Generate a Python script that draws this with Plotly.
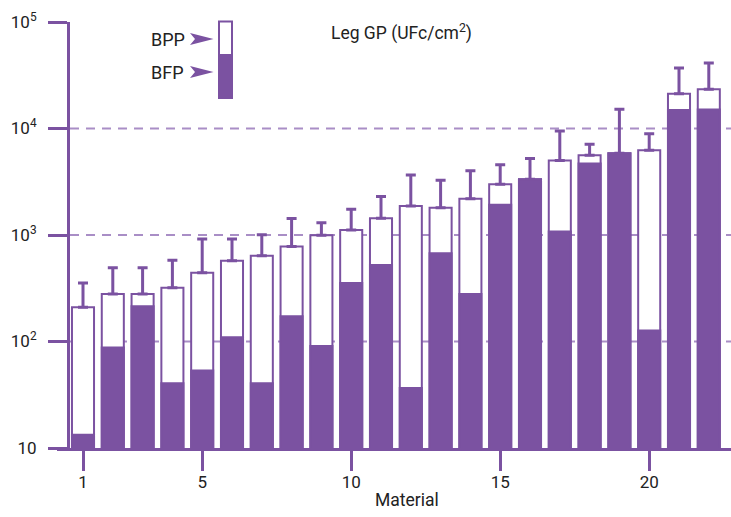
import math
import plotly.graph_objects as go

# ---------------- data ----------------
materials = list(range(1, 23))
bpp = [210, 279, 279, 320, 443, 573, 638, 778, 995, 1113, 1439, 1871,
       1805, 2188, 2999, 3335, 5011, 5612, 5865, 6245, 21210, 23390]
bfp = [13.3, 88, 214, 40.5, 53.5, 109.5, 40.5, 173, 90.6, 355, 524, 36.6,
       673, 279, 1924, 3335, 1080, 4700, 5865, 127, 14880, 15100]
bpp_upper = [355, 493, 493, 578, 918, 918, 1006, 1427, 1301, 1744, 2304, 3656,
             3266, 4018, 4573, 5228, 9460, 7100, 15200, 8930, 37070, 41230]
y_tick_vals = [10, 100, 1000, 10000, 100000]
y_tick_text = ["10", "10<sup>2</sup>", "10<sup>3</sup>", "10<sup>4</sup>", "10<sup>5</sup>"]
x_tick_vals = [1, 5, 10, 15, 20]
grid_vals = [100, 1000, 10000]

# ---------------- style ----------------
PURPLE = "#7B52A1"
GRID = "#A98EC6"
TEXT = "#222222"
FONT = "Roboto"

W, H = 731, 517
L, R, T, B = 57, 0, 22, 69
PW = W - L - R
PH = H - T - B
Y_RANGE = [1, 5]


def px(xp):
    return (xp - L) / PW


def py(yp):
    return (H - B - yp) / PH


err_plus = [e - v for e, v in zip(bpp_upper, bpp)]

fig = go.Figure()
fig.add_trace(go.Bar(
    x=materials, y=bpp, width=0.74, name="BPP",
    marker=dict(color="white", line=dict(color=PURPLE, width=2)),
    error_y=dict(type="data", symmetric=False, array=err_plus,
                 arrayminus=[0] * len(bpp), color=PURPLE, thickness=3, width=5),
))
fig.add_trace(go.Bar(
    x=materials, y=bfp, width=0.74, name="BFP",
    marker=dict(color=PURPLE, line=dict(color=PURPLE, width=2)),
))

shapes = []
for v in grid_vals:
    yp = (math.log10(v) - Y_RANGE[0]) / (Y_RANGE[1] - Y_RANGE[0])
    shapes.append(dict(type="line", xref="paper", yref="paper",
                       x0=px(70), x1=1, y0=yp, y1=yp, layer="below",
                       line=dict(color=GRID, width=2, dash="9px,7px")))

# legend box (BPP white on top, BFP filled below)
shapes.append(dict(type="rect", xref="paper", yref="paper",
                   x0=px(219), x1=px(232), y0=py(55), y1=py(21.5),
                   fillcolor="white", line=dict(color=PURPLE, width=2)))
shapes.append(dict(type="rect", xref="paper", yref="paper",
                   x0=px(218), x1=px(233), y0=py(99), y1=py(55),
                   fillcolor=PURPLE, line=dict(width=0)))


def arrow(cy):
    pts = [(190, cy - 6), (213.5, cy), (190, cy + 6), (195, cy)]
    d = "M " + " L ".join(f"{px(a):.5f},{py(b):.5f}" for a, b in pts) + " Z"
    return dict(type="path", xref="paper", yref="paper", path=d,
                fillcolor=PURPLE, line=dict(width=0))


shapes.append(arrow(39))
shapes.append(arrow(72))

annotations = [
    dict(text="BPP", xref="paper", yref="paper", x=px(187), y=py(39.5),
         xanchor="right", yanchor="middle", showarrow=False,
         font=dict(family=FONT, size=18, color=TEXT)),
    dict(text="BFP", xref="paper", yref="paper", x=px(186), y=py(72.5),
         xanchor="right", yanchor="middle", showarrow=False,
         font=dict(family=FONT, size=18, color=TEXT)),
    dict(text="Leg GP (UFc/cm<sup>2</sup>)", xref="paper", yref="paper",
         x=px(401), y=py(32), xanchor="center", yanchor="middle", showarrow=False,
         font=dict(family=FONT, size=17.5, color=TEXT)),
    dict(text="Material", xref="paper", yref="paper",
         x=px(407), y=py(500), xanchor="center", yanchor="middle", showarrow=False,
         font=dict(family=FONT, size=17.5, color=TEXT)),
]

fig.update_layout(
    width=W, height=H,
    margin=dict(l=L, r=R, t=T, b=B, pad=0),
    paper_bgcolor="white", plot_bgcolor="white",
    barmode="overlay", showlegend=False,
    shapes=shapes, annotations=annotations,
    font=dict(family=FONT, color=TEXT),
    xaxis=dict(range=[0.1275, 22.745], showline=True, linecolor=PURPLE, linewidth=3,
               ticks="outside", ticklen=20, tickwidth=3, tickcolor=PURPLE,
               tickvals=x_tick_vals, ticklabelstandoff=-3,
               tickfont=dict(family=FONT, size=17, color=TEXT),
               showgrid=False, zeroline=False),
    yaxis=dict(type="log", range=Y_RANGE, anchor="free", position=px(68),
               showline=True, linecolor=PURPLE, linewidth=3,
               ticks="outside", ticklen=19, tickwidth=3, tickcolor=PURPLE,
               tickvals=y_tick_vals, ticktext=y_tick_text, ticklabelstandoff=8,
               tickfont=dict(family=FONT, size=17, color=TEXT),
               showgrid=False, zeroline=False),
)

fig.write_html("out.html")
